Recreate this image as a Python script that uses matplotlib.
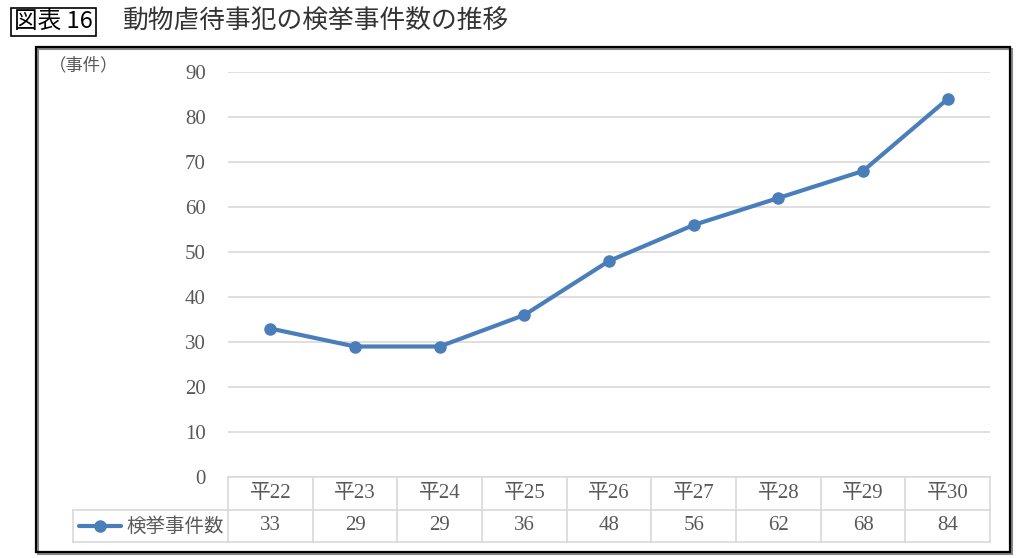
import matplotlib
matplotlib.use("Agg")
import matplotlib.pyplot as plt
from matplotlib.lines import Line2D
from matplotlib.patches import Rectangle
from matplotlib.transforms import blended_transform_factory

categories = ["平22", "平23", "平24", "平25", "平26", "平27", "平28", "平29", "平30"]
values = [33, 29, 29, 36, 48, 56, 62, 68, 84]
series_name = "検挙事件数"
yticks = [0, 10, 20, 30, 40, 50, 60, 70, 80, 90]
title_label = "図表 16"
title_text = "動物虐待事犯の検挙事件数の推移"
unit_label = "（事件）"

W, H = 1024, 558
fig = plt.figure(figsize=(W / 100, H / 100), dpi=100)

def fx(px):
    return px / W

def fy(py):
    return 1 - py / H

JP = ["Noto Sans CJK JP", "DejaVu Sans"]
SERIF = ["Liberation Serif", "Noto Sans CJK JP"]
TXT = "#595959"
GRID = "#d9d9d9"
BLUE = "#4a7ebb"

# outer frame with shadow
fig.add_artist(Rectangle((fx(38), fy(554)), fx(1012) - fx(38), fy(49) - fy(554),
                         transform=fig.transFigure, fill=False, lw=1.5, ec="#888888"))
fig.add_artist(Rectangle((fx(36), fy(552)), fx(1010) - fx(36), fy(47) - fy(552),
                         transform=fig.transFigure, fill=False, lw=1.6, ec="black"))

# title
fig.text(fx(14), fy(22), title_label, family=JP, fontsize=17, va="center", ha="left",
         bbox=dict(boxstyle="square,pad=0.12", fc="white", ec="black", lw=1.2))
fig.text(fx(123), fy(22), title_text, family=JP, fontsize=18.5, va="center", ha="left",
         color="#333333")

# main axes
x0, x1, ytop, ybot = 228, 990, 72, 477
ax = fig.add_axes([fx(x0), fy(ybot), fx(x1) - fx(x0), fy(ytop) - fy(ybot)])
n = len(categories)
xs = list(range(n))
ax.set_xlim(-0.5, n - 0.5)
ax.set_ylim(0, 90)
for s in ax.spines.values():
    s.set_visible(False)
ax.set_xticks([])
ax.set_yticks(yticks)
ax.set_yticklabels([str(t) for t in yticks], family=SERIF, fontsize=15, color=TXT)
ax.tick_params(axis="y", length=0, pad=16)
ax.yaxis.grid(True, color=GRID, lw=1.2)
ax.set_axisbelow(True)
ax.plot(xs, values, color=BLUE, lw=3, marker="o", ms=8, mfc=BLUE, mec=BLUE,
        solid_capstyle="round", zorder=3, clip_on=False)

fig.text(fx(84), fy(65), unit_label, family=JP, fontsize=12.5, color=TXT, ha="center", va="center")

# data table below
tr = blended_transform_factory(ax.transData, fig.transFigure)
row_top, row_mid, row_bot = 477, 510, 542
label_left = 73
def hline(xa, xb, y, t):
    fig.add_artist(Line2D([xa, xb], [fy(y), fy(y)], transform=t, color=GRID, lw=1.2))
def vline(x, ya, yb, t):
    fig.add_artist(Line2D([x, x], [fy(ya), fy(yb)], transform=t, color=GRID, lw=1.2))

hline(-0.5, n - 0.5, row_top, tr)
hline(-0.5, n - 0.5, row_mid, tr)
hline(-0.5, n - 0.5, row_bot, tr)
hline(fx(label_left), fx(x0), row_mid, fig.transFigure)
hline(fx(label_left), fx(x0), row_bot, fig.transFigure)
vline(fx(label_left), row_mid, row_bot, fig.transFigure)
for i in range(n + 1):
    vline(i - 0.5, row_top, row_bot, tr)

for i, (c, v) in enumerate(zip(categories, values)):
    fig.text(i, fy((row_top + row_mid) / 2), c, transform=tr, family=SERIF, fontsize=15,
             color=TXT, ha="center", va="center")
    fig.text(i, fy((row_mid + row_bot) / 2), str(v), transform=tr, family=SERIF, fontsize=15,
             color=TXT, ha="center", va="center")

# legend key
ly = fy((row_mid + row_bot) / 2)
fig.add_artist(Line2D([fx(79), fx(121)], [ly, ly], transform=fig.transFigure, color=BLUE, lw=3,
                      solid_capstyle="round"))
fig.add_artist(Line2D([fx(100)], [ly], transform=fig.transFigure, color=BLUE, marker="o", ms=8))
fig.text(fx(126), ly, series_name, family=JP, fontsize=14, color=TXT, ha="left", va="center")

fig.savefig("out.png", dpi=100)
